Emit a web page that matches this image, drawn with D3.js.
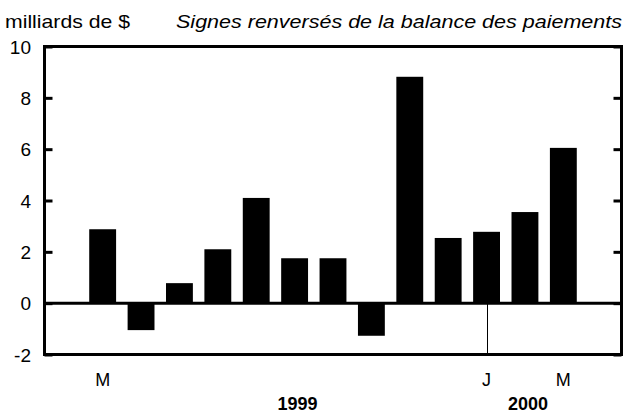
<!doctype html>
<html lang="fr">
<head>
<meta charset="utf-8">
<title>Balance des paiements</title>
<script src="https://cdnjs.cloudflare.com/ajax/libs/d3/7.8.5/d3.min.js"></script>
<style>
  body { margin: 0; background: #fff; }
  text { font-family: "Liberation Sans", Arial, sans-serif; fill: #000; }
</style>
</head>
<body>
<div id="chart"></div>
<script>
// mois de mars 1999 a mars 2000
var months = ["1999-03","1999-04","1999-05","1999-06","1999-07","1999-08","1999-09",
              "1999-10","1999-11","1999-12","2000-01","2000-02","2000-03"];
var values = [2.88, -1.05, 0.78, 2.1, 4.1, 1.75, 1.75, -1.27, 8.82, 2.54, 2.78, 3.55, 6.05];
var monthLabels = {"1999-03": "M", "2000-01": "J", "2000-03": "M"};
var yearLabels = [{m: "1999-08", t: "1999"}, {m: "2000-02", t: "2000"}];
var yTicks = [-2, 0, 2, 4, 6, 8, 10];

var width = 626, height = 414,
    plotLeft = 44.5, plotRight = 621.5, plotTop = 46.5, plotBottom = 354.5;

var svg = d3.select("#chart").append("svg")
  .attr("width", width)
  .attr("height", height);

var x = d3.scaleBand()
  .domain(months)
  .range([plotLeft, plotRight])
  .paddingInner(0.3)
  .paddingOuter(1.165);

var y = d3.scaleLinear()
  .domain([-2, 10])
  .range([plotBottom, plotTop]);

// barres
svg.selectAll("rect.bar")
  .data(values)
  .enter()
  .append("rect")
  .attr("class", "bar")
  .attr("x", function(d, i){ return x(months[i]); })
  .attr("width", x.bandwidth())
  .attr("y", function(d){ return y(Math.max(0, d)); })
  .attr("height", function(d){ return Math.abs(y(d) - y(0)); })
  .attr("fill", "#000");

// ligne du zero
svg.append("line")
  .attr("x1", plotLeft).attr("x2", plotRight)
  .attr("y1", y(0)).attr("y2", y(0))
  .attr("stroke", "#000").attr("stroke-width", 3);

// separateur d'annee
var jx = Math.round(x("2000-01") + x.bandwidth() / 2) + 0.5;
svg.append("line")
  .attr("x1", jx).attr("x2", jx)
  .attr("y1", y(0)).attr("y2", plotBottom)
  .attr("stroke", "#000").attr("stroke-width", 1);

// ticks vers l'interieur, a gauche et a droite
svg.append("g")
  .attr("transform", "translate(" + plotLeft + ",0)")
  .call(d3.axisRight(y).tickValues(yTicks).tickSize(8).tickFormat(""))
  .call(function(g){ g.select(".domain").remove(); })
  .selectAll("line").attr("stroke-width", 3);

svg.append("g")
  .attr("transform", "translate(" + plotRight + ",0)")
  .call(d3.axisLeft(y).tickValues(yTicks).tickSize(8).tickFormat(""))
  .call(function(g){ g.select(".domain").remove(); })
  .selectAll("line").attr("stroke-width", 3);

// cadre
svg.append("rect")
  .attr("x", plotLeft).attr("y", plotTop)
  .attr("width", plotRight - plotLeft).attr("height", plotBottom - plotTop)
  .attr("fill", "none")
  .attr("stroke", "#000")
  .attr("stroke-width", 3);

// etiquettes de l'axe y
svg.selectAll("text.ylab")
  .data(yTicks)
  .enter()
  .append("text")
  .attr("class", "ylab")
  .attr("x", 31)
  .attr("y", function(d){ return y(d) + 7; })
  .attr("text-anchor", "end")
  .style("font-size", "19px")
  .text(function(d){ return d; });

// mois
svg.selectAll("text.mlab")
  .data(Object.keys(monthLabels))
  .enter()
  .append("text")
  .attr("class", "mlab")
  .attr("x", function(d){ return x(d) + x.bandwidth() / 2; })
  .attr("y", 386)
  .attr("text-anchor", "middle")
  .style("font-size", "18px")
  .text(function(d){ return monthLabels[d]; });

// annees
svg.selectAll("text.yr")
  .data(yearLabels)
  .enter()
  .append("text")
  .attr("class", "yr")
  .attr("x", function(d){ return x(d.m) + x.bandwidth() / 2 + 3; })
  .attr("y", 410)
  .attr("text-anchor", "middle")
  .style("font-size", "18px")
  .style("font-weight", "bold")
  .text(function(d){ return d.t; });

svg.append("text")
  .attr("x", 5).attr("y", 28)
  .style("font-size", "19px")
  .attr("textLength", 125)
  .attr("lengthAdjust", "spacingAndGlyphs")
  .text("milliards de $");

svg.append("text")
  .attr("x", 176).attr("y", 28)
  .style("font-size", "19px")
  .style("font-style", "italic")
  .attr("textLength", 446)
  .attr("lengthAdjust", "spacingAndGlyphs")
  .text("Signes renversés de la balance des paiements");
</script>
</body>
</html>
